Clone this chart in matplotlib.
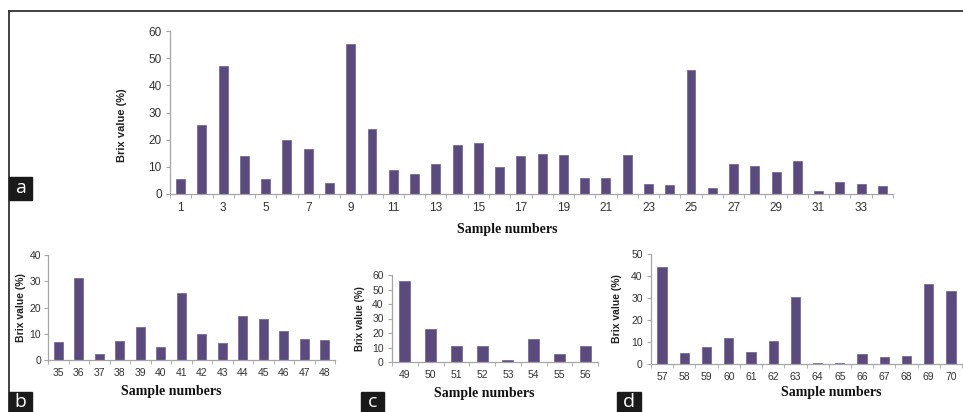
import matplotlib
matplotlib.use('Agg')
import matplotlib.pyplot as plt
import numpy as np
from matplotlib.patches import Rectangle
from matplotlib.lines import Line2D

# Brix values, one list per panel
samples_a = list(range(1, 35))
brix_a = [5.7, 25.5, 47.1, 14.0, 5.4, 19.9, 16.6, 4.1, 55.3, 24.1, 9.0, 7.3,
          10.9, 18.1, 18.8, 9.8, 14.0, 14.8, 14.5, 5.8, 5.8, 14.5, 3.8, 3.4,
          45.5, 2.3, 11.1, 10.2, 8.1, 12.3, 1.1, 4.5, 3.6, 2.8]

samples_b = list(range(35, 49))
brix_b = [7.0, 31.1, 2.4, 7.4, 12.4, 5.0, 25.5, 9.8, 6.5, 16.8, 15.7, 11.2, 8.1, 7.5]

samples_c = list(range(49, 57))
brix_c = [56.1, 22.6, 10.8, 10.8, 1.6, 16.2, 5.3, 10.8]

samples_d = list(range(57, 71))
brix_d = [43.9, 4.8, 7.6, 12.0, 5.3, 10.5, 30.6, 0.6, 0.6, 4.7, 3.2, 3.8, 36.2, 33.3]

BAR = '#5b4a7d'
AXC = '#a6a6a6'
TXT = '#333333'
W, H = 963, 412

fig = plt.figure(figsize=(W / 100, H / 100), dpi=100)


def px_axes(left, right, top, bottom):
    # pixel box -> figure fraction
    return fig.add_axes([left / W, 1 - bottom / H, (right - left) / W, (bottom - top) / H])


def panel(ax, samples, vals, ymax, tick_fs, ylab_fs, every=1, xlab=(0.5, -0.3), ylab=(-0.1, 0.5),
          ypad=3):
    x = np.arange(len(samples))
    ax.bar(x, vals, width=0.42, color=BAR, edgecolor='#6e5e90', linewidth=0.5)
    ax.set_xlim(-0.5, len(samples) - 0.5)
    ax.set_ylim(0, ymax)
    ax.set_yticks(np.arange(0, ymax + 1, 10))
    ax.set_xticks(x[::every])
    ax.set_xticklabels([str(s) for s in samples[::every]])
    ax.set_xticks(np.arange(-0.5, len(samples), 1), minor=True)
    for s in ['top', 'right']:
        ax.spines[s].set_visible(False)
    for s in ['left', 'bottom']:
        ax.spines[s].set_color(AXC)
        ax.spines[s].set_linewidth(0.9)
    ax.tick_params(axis='y', direction='out', length=3, color=AXC, labelsize=tick_fs,
                   labelcolor=TXT, pad=ypad)
    ax.tick_params(axis='x', which='major', length=0, labelsize=tick_fs, labelcolor=TXT, pad=6)
    ax.tick_params(axis='x', which='minor', length=3, color=AXC)
    for lab in ax.get_xticklabels() + ax.get_yticklabels():
        lab.set_family('Liberation Sans')
    ax.set_ylabel('Brix value (%)', fontsize=ylab_fs, fontweight='bold',
                  family='Liberation Sans', color='#222222')
    ax.set_xlabel('Sample numbers', fontsize=10, fontweight='bold',
                  family='Liberation Serif', color='#111111')
    ax.xaxis.set_label_coords(*xlab)
    ax.yaxis.set_label_coords(*ylab)


ax_a = px_axes(170, 893, 31, 194)
panel(ax_a, samples_a, brix_a, 60, 8.5, 8, every=2, xlab=(0.467, -0.178), ylab=(-0.059, 0.42))

ax_b = px_axes(48, 335, 255, 360)
panel(ax_b, samples_b, brix_b, 40, 7.5, 7.5, xlab=(0.43, -0.238), ylab=(-0.075, 0.5), ypad=2)

ax_c = px_axes(392, 598, 275, 362)
panel(ax_c, samples_c, brix_c, 60, 7.5, 7, xlab=(0.45, -0.287), ylab=(-0.131, 0.5))

ax_d = px_axes(651, 962, 254, 364)
panel(ax_d, samples_d, brix_d, 50, 7.5, 7.5, xlab=(0.58, -0.2), ylab=(-0.093, 0.5))

# outer frame lines (top and left)
fig.add_artist(Line2D([9 / W, 1], [1 - 11 / H, 1 - 11 / H], color='#333333', lw=1.3,
                      transform=fig.transFigure))
fig.add_artist(Line2D([9 / W, 9 / W], [1 - 11 / H, 0], color='#333333', lw=1.3,
                      transform=fig.transFigure))

# panel letters in black boxes
letters = ['a', 'b', 'c', 'd']
boxes = [(9, 32, 177, 200), (9, 32, 392, 412), (361, 384, 392, 412), (617, 641, 392, 412)]
for letter, (l, r, t, b) in zip(letters, boxes):
    fig.add_artist(Rectangle((l / W, 1 - b / H), (r - l) / W, (b - t) / H,
                             transform=fig.transFigure, color='#1a1a1a', zorder=5))
    fig.text((l + r) / 2 / W, 1 - (t + b) / 2 / H, letter, color='white', fontsize=14,
             family='Open Sans', ha='center', va='center', zorder=6)

fig.savefig('out.png', dpi=100)
